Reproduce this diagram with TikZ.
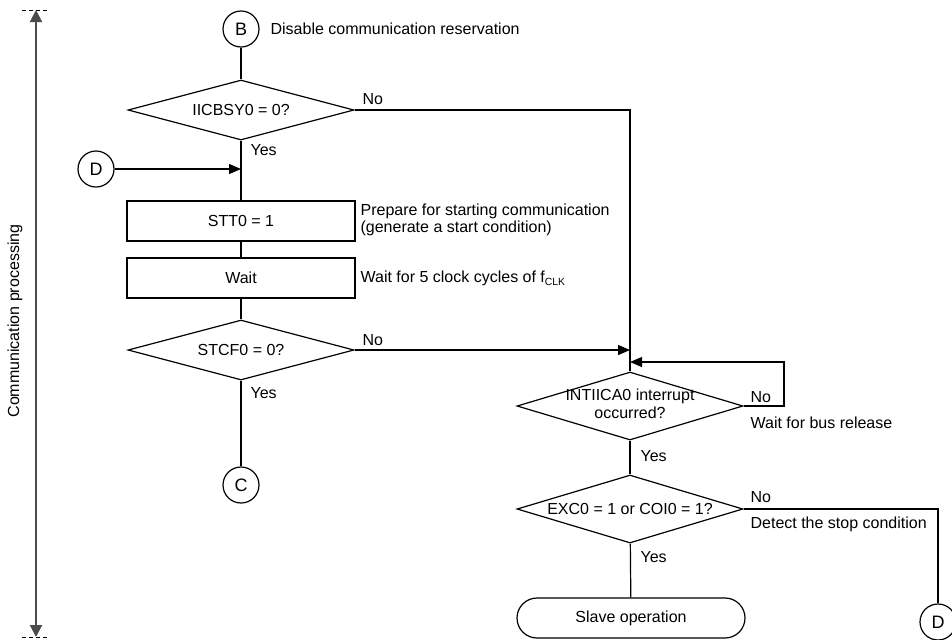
\documentclass[tikz,border=0pt]{standalone}
\usepackage{fontspec}
\setmainfont{Liberation Sans}
\usetikzlibrary{shapes.geometric,arrows.meta}
\newcommand{\nowidth}[1]{\makebox[0pt]{#1}}
\newcommand{\smallsub}[1]{\raisebox{-1.6pt}{\fontsize{5.2}{5.2}\selectfont #1}}
\tikzset{
  decision/.style={diamond, draw, inner sep=0pt, minimum width=113pt, minimum height=30pt},
  process/.style={rectangle, draw, inner sep=0pt, minimum width=114pt, minimum height=20pt},
  terminal/.style={rectangle, draw, rounded corners=10pt, inner sep=0pt, minimum width=114pt, minimum height=20pt},
  conn/.style={circle, draw, inner sep=0pt, minimum size=18pt, font=\fontsize{9}{9}\selectfont},
  note/.style={anchor=west, inner sep=1pt, align=left},
  arr/.style={-{Triangle[length=6pt,width=5pt]}},
  spanarr/.style={{Triangle[length=6pt,width=6pt]}-{Triangle[length=6pt,width=6pt]}, black!70, line width=1pt},
}
\begin{document}
\begin{tikzpicture}[x=0.5pt,y=-0.5pt,font=\fontsize{8}{8.6}\selectfont,line width=0.6pt]
\useasboundingbox (0,0) rectangle (952,639);
% span marker on the left
\coordinate (spantop) at (36,10);
\coordinate (spanbot) at (36,637);
\draw[dashed, line width=0.5pt, dash pattern=on 2pt off 1.5pt] ([xshift=-7pt]spantop) -- ([xshift=7pt]spantop);
\draw[dashed, line width=0.5pt, dash pattern=on 2pt off 1.5pt] ([xshift=-7pt]spanbot) -- ([xshift=7pt]spanbot);
\draw[spanarr] (spanbot) -- (spantop);
\node[rotate=90] (span) at (15,321) {Communication processing};
% left column
\node[conn] (B) at (241,29) {B};
\node[note] (tB) at (268,29) {Disable communication reservation};
\node[decision] (d1) at (241,110) {\nowidth{IICBSY0 = 0?}};
\node[conn] (D1) at (96,169) {D};
\node[process] (stt) at (241,221) {STT0 = 1};
\node[note] (tstt) at (358,220) {Prepare for starting communication\\(generate a start condition)};
\node[process] (wait) at (241,278) {Wait};
\node[note] (twait) at (358,278) {Wait for 5 clock cycles of f\smallsub{CLK}};
\node[decision] (d2) at (241,350) {\nowidth{STCF0 = 0?}};
\node[conn] (C) at (241,485) {C};
% right column
\node[decision, minimum height=34pt] (d3) at (630,406)
  {\nowidth{\begin{tabular}{@{}c@{}}INTIICA0 interrupt\\occurred?\end{tabular}}};
\node[decision, minimum height=34pt] (d4) at (630,509) {\nowidth{EXC0 = 1 or COI0 = 1?}};
\node[terminal] (slave) at (631,618) {Slave operation};
\node[conn] (D2) at (938,622) {D};
\coordinate (loop) at (784,362);
% branch labels
\node[note] (no1) at (360,99) {No};
\node[note] (yes1) at (248,150) {Yes};
\node[note] (no2) at (360,340) {No};
\node[note] (yes2) at (248,393) {Yes};
\node[note] (no3) at (748,397) {No};
\node[note] (tbus) at (748,423) {Wait for bus release};
\node[note] (yes3) at (638,456) {Yes};
\node[note] (no4) at (748,497) {No};
\node[note] (tstop) at (748,524) {Detect the stop condition};
\node[note] (yes4) at (638,557) {Yes};
% connectors
\draw (B) -- (d1);
\draw (d1) -- (stt);
\draw[arr] (D1) -- (D1 -| stt);
\draw (stt) -- (wait);
\draw (wait) -- (d2);
\draw (d2) -- (C);
\draw (d1) -| (d3);
\draw[arr] (d2) -- (d2 -| d3);
\draw[arr] (d3.east) -| (loop) -- (loop -| d3);
\draw (d3) -- (d4);
\draw (d4) -- (slave);
\draw (d4) -| (D2);
\end{tikzpicture}
\end{document}
